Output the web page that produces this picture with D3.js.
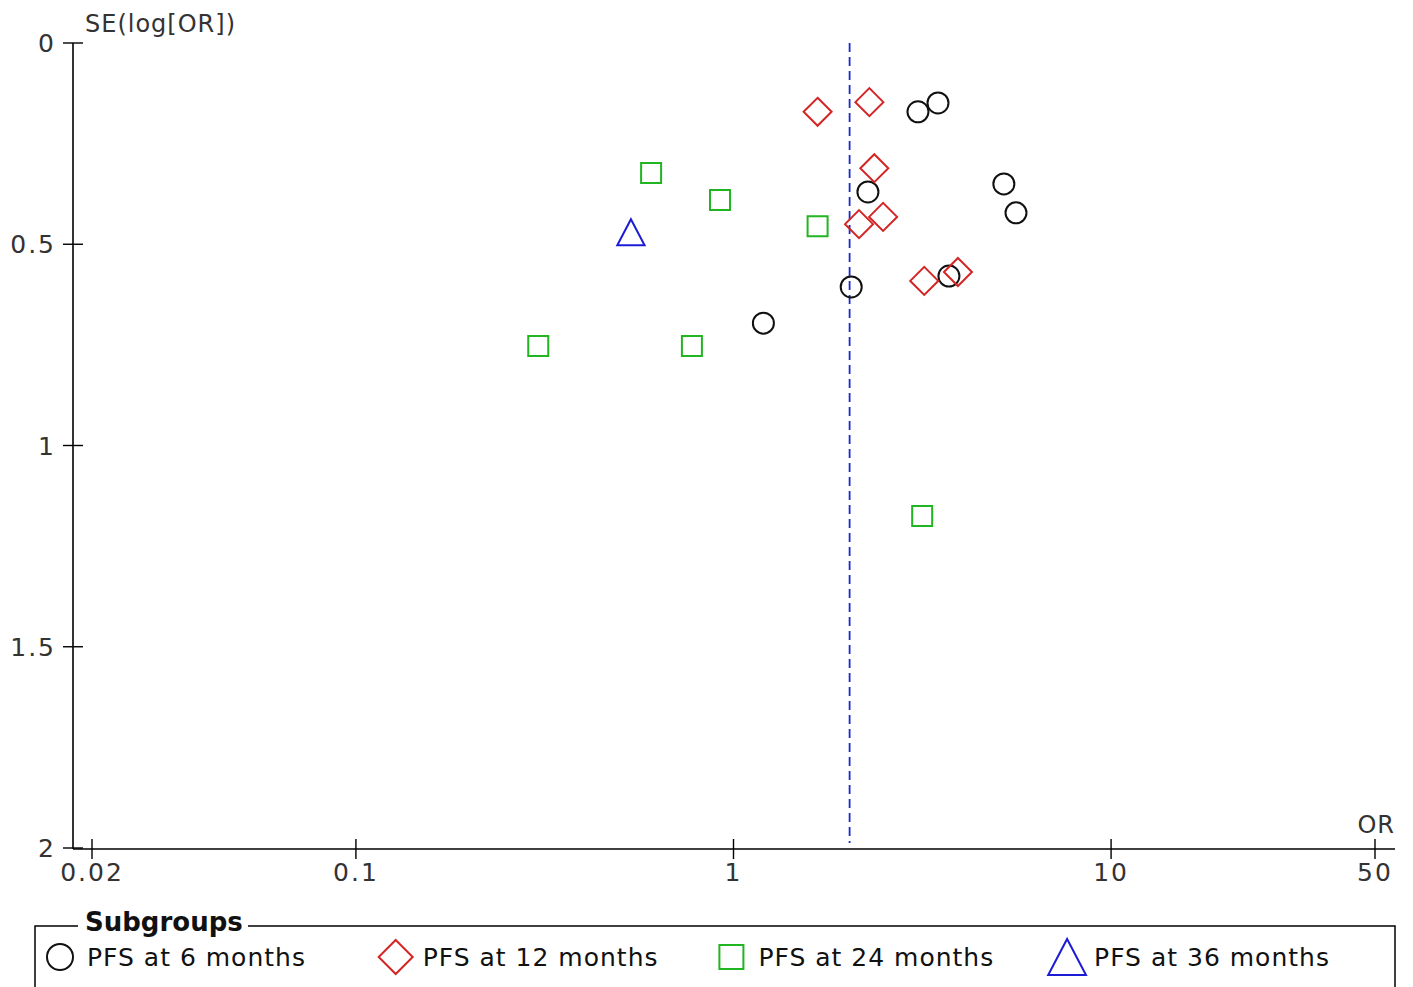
<!DOCTYPE html>
<html>
<head>
<meta charset="utf-8">
<script src="https://cdn.jsdelivr.net/npm/d3@7"></script>
<style>
  body { margin: 0; background: #fff; }
  text { font-family: "DejaVu Sans", sans-serif; fill: #111; }
</style>
</head>
<body>
<div id="chart"></div>
<script>
// data: [OR, SE(log OR)]
const pfs6 = [[3.08, 0.171], [3.48, 0.149], [2.27, 0.370], [5.20, 0.350],
              [5.60, 0.422], [3.72, 0.579], [2.05, 0.606], [1.20, 0.696]];
const pfs12 = [[1.67, 0.171], [2.29, 0.147], [2.36, 0.311], [2.49, 0.432],
               [2.15, 0.450], [3.93, 0.569], [3.20, 0.591]];
const pfs24 = [[0.605, 0.323], [0.921, 0.390], [1.67, 0.455], [0.304, 0.753],
               [0.776, 0.753], [3.16, 1.175]];
const pfs36 = [[0.535, 0.470]];
const pooledOR = 2.03;

const xTicks = [0.02, 0.1, 1, 10, 50];
const yTicks = [0, 0.5, 1, 1.5, 2];
const legendLabels = ['PFS at 6 months', 'PFS at 12 months', 'PFS at 24 months', 'PFS at 36 months'];

const W = 1413, H = 987;
const svg = d3.select('#chart').append('svg')
    .attr('width', W).attr('height', H);

const x = d3.scaleLog().domain([0.02, 50]).range([92, 1375]);
const y = d3.scaleLinear().domain([0, 2]).range([43, 848]);
const axisY = y(2) + 1, axisX = 73;

// marker shapes, centred on 0,0
function shape(kind, s) {
    if (kind === 'circle') return `M${s},0A${s},${s} 0 1,1 ${-s},0A${s},${s} 0 1,1 ${s},0Z`;
    if (kind === 'diamond') return `M0,${-s}L${s},0L0,${s}L${-s},0Z`;
    if (kind === 'square') return `M${-s},${-s}H${s}V${s}H${-s}Z`;
    return `M0,${-s}L${s * 1.05},${s}L${-s * 1.05},${s}Z`;
}
const groups = [
    {data: pfs6, kind: 'circle', color: '#111', size: 10.5, lsize: 13},
    {data: pfs12, kind: 'diamond', color: '#d42424', size: 14, lsize: 17},
    {data: pfs24, kind: 'square', color: '#22b522', size: 10, lsize: 12},
    {data: pfs36, kind: 'triangle', color: '#1c1cd6', size: 13, lsize: 18}
];

// pooled estimate line
svg.append('line')
    .attr('x1', x(pooledOR)).attr('x2', x(pooledOR))
    .attr('y1', y(0)).attr('y2', y(2) - 5)
    .attr('stroke', '#1a2ad0').attr('stroke-width', 1.8)
    .attr('stroke-dasharray', '9,5');

// axes
svg.append('line').attr('x1', axisX).attr('x2', axisX)
    .attr('y1', y(0)).attr('y2', axisY)
    .attr('stroke', '#000').attr('stroke-width', 1.6);
svg.append('line').attr('x1', axisX).attr('x2', 1395)
    .attr('y1', axisY).attr('y2', axisY)
    .attr('stroke', '#000').attr('stroke-width', 1.6);

svg.selectAll('.ytick').data(yTicks).enter().append('line')
    .attr('x1', axisX - 10).attr('x2', axisX + 10)
    .attr('y1', d => y(d)).attr('y2', d => y(d))
    .attr('stroke', '#000').attr('stroke-width', 1.4);
svg.selectAll('.ylab').data(yTicks).enter().append('text')
    .attr('x', 56).attr('y', d => y(d) + 9)
    .attr('text-anchor', 'end')
    .style('font-size', '25px').style('letter-spacing', '2px')
    .style('fill', '#333')
    .text(d => d);

svg.selectAll('.xtick').data(xTicks).enter().append('line')
    .attr('x1', d => x(d)).attr('x2', d => x(d))
    .attr('y1', axisY - 10).attr('y2', axisY + 10)
    .attr('stroke', '#000').attr('stroke-width', 1.4);
svg.selectAll('.xlab').data(xTicks).enter().append('text')
    .attr('x', d => x(d)).attr('y', 881)
    .attr('text-anchor', 'middle')
    .style('font-size', '25px').style('letter-spacing', '2px')
    .style('fill', '#333')
    .text(d => d);

svg.append('text').attr('x', 85).attr('y', 32)
    .style('font-size', '24px').style('letter-spacing', '1px')
    .style('fill', '#333').text('SE(log[OR])');
svg.append('text').attr('x', 1395).attr('y', 833)
    .attr('text-anchor', 'end')
    .style('font-size', '24px').style('letter-spacing', '1px')
    .style('fill', '#333').text('OR');

// points
groups.forEach(g => {
    svg.append('g').selectAll('path').data(g.data).enter().append('path')
        .attr('transform', d => `translate(${x(d[0])},${y(d[1])})`)
        .attr('d', shape(g.kind, g.size))
        .attr('fill', 'none')
        .attr('stroke', g.color).attr('stroke-width', 2);
});

// legend
const leg = svg.append('g');
leg.append('rect').attr('x', 35).attr('y', 926)
    .attr('width', 1360).attr('height', 100)
    .attr('fill', 'none').attr('stroke', '#000').attr('stroke-width', 1.5);
leg.append('rect').attr('x', 78).attr('y', 915).attr('width', 170).attr('height', 20)
    .attr('fill', '#fff');
leg.append('text').attr('x', 85).attr('y', 931)
    .style('font-size', '26px').style('font-weight', 'bold').text('Subgroups');

const item = leg.selectAll('.item').data(groups).enter().append('g')
    .attr('transform', (d, i) => `translate(${60 + i * 335.7},957)`);
item.append('path')
    .attr('d', d => shape(d.kind, d.lsize))
    .attr('fill', 'none').attr('stroke', d => d.color).attr('stroke-width', 2);
item.append('text').attr('x', 27).attr('y', 9)
    .style('font-size', '25px').style('letter-spacing', '1px')
    .text((d, i) => legendLabels[i]);
</script>
</body>
</html>
